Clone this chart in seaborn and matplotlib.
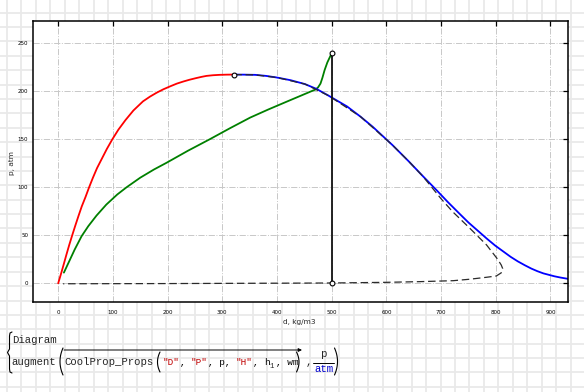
import numpy as np
import pandas as pd
import seaborn as sns
import matplotlib.pyplot as plt
from matplotlib.lines import Line2D

# saturated vapour branch (red)
vap_d = [0, 5.2, 10.2, 15.1, 20.2, 25.6, 31.2, 37, 43, 50, 56.5, 63.5, 71, 80, 89, 99,
         110, 123, 137.5, 155, 168, 180, 192, 205, 217, 229, 240, 252, 262, 271, 283, 295, 308, 322]
vap_p = [0, 10, 20, 30, 40, 50, 60, 70, 80, 90, 100, 110, 120, 130, 140, 150,
         160, 170, 180, 189.5, 194.5, 198.5, 202, 205.2, 208, 210.2, 212, 213.7, 215, 216, 216.7, 217.1, 217.3, 217.4]

# saturated liquid branch (blue)
liq_d = [322, 340, 360, 380, 400, 425, 451, 472, 494, 528, 553, 575, 611, 641, 667, 691, 712,
         732, 750, 768, 784, 799, 814, 827, 840, 853, 865, 876, 887, 897, 907, 918, 935]
liq_p = [217.4, 217.3, 217.1, 216, 214.3, 211.5, 207.5, 202.5, 195.5, 184.2, 173.4, 163, 144, 126.9, 111.4, 97.4, 84.8,
         73.4, 63.3, 54.3, 46.3, 39.2, 33, 27.6, 22.9, 18.8, 15.3, 12.6, 10.3, 8.8, 7.3, 6.0, 4.3]

# process line (green)
proc_d = [10.4, 21, 30, 42.7, 55, 70, 88, 108, 125, 150, 175, 198, 237, 277, 314, 351, 384, 417, 444, 471,
          475, 479.5, 483, 487, 492, 500]
proc_p = [11.1, 24, 35, 49, 59.5, 70.5, 82, 92.5, 100, 110, 118.5, 125.5, 138, 150, 161.5, 172.6, 181, 189, 195.5, 202,
          204, 208, 214, 222, 230, 239.6]

# dashed line
dash_d = [322, 360, 400, 451, 494, 553, 611, 641, 667, 700, 721, 752, 783, 803, 810, 812.5, 810, 801, 783,
          752, 722, 661, 600, 500, 400, 200, 9]
dash_p = [217.4, 217.1, 214.3, 207.5, 195.5, 173.4, 144, 126.9, 111.2, 88, 74.6, 57.6, 40, 25.3, 19, 15.4, 10.9, 7.6, 6.25,
          4.2, 2.7, 1.7, 1.0, 0.3, 0.1, -0.3, -0.5]

# vertical line and marked points
vert_d = [500, 500]
vert_p = [0, 239.6]
pts_d = [322, 500, 500]
pts_p = [217.4, 239.6, 0]

x_ticks = [0, 100, 200, 300, 400, 500, 600, 700, 800, 900]
y_ticks = [0, 50, 100, 150, 200, 250]

W, H = 584, 392


def fx(px):
    return px / W


def fy(py):
    return 1 - py / H


sns.set_style("white")
fig = plt.figure(figsize=(W / 100, H / 100), dpi=100)
fig.patch.set_facecolor("white")

# worksheet background grid
for gx in np.arange(7, W, 14.45):
    fig.add_artist(Line2D([fx(gx)] * 2, [0, 1], color="#e9e9e9", lw=1.3, zorder=-5))
for gy in np.arange(12.5, H, 14.4):
    fig.add_artist(Line2D([0, 1], [fy(gy)] * 2, color="#e9e9e9", lw=1.3, zorder=-5))

ax = fig.add_axes([fx(32.5), fy(302), (568 - 32.5) / W, (302 - 20.7) / H])
ax.set_facecolor("white")

sns.lineplot(x=vap_d, y=vap_p, sort=False, estimator=None, color="#ff0000", lw=1.3, ax=ax)
sns.lineplot(x=proc_d, y=proc_p, sort=False, estimator=None, color="#008000", lw=1.3, ax=ax)
sns.lineplot(x=liq_d, y=liq_p, sort=False, estimator=None, color="#0000ff", lw=1.3, ax=ax)
ax.plot(dash_d, dash_p, color="#2a2a2a", lw=0.9, dashes=(6, 3))
sns.lineplot(x=vert_d, y=vert_p, sort=False, estimator=None, color="#111111", lw=1.3, ax=ax)
sns.scatterplot(x=pts_d, y=pts_p, marker="o", s=12, facecolor="white",
                edgecolor="black", linewidth=0.8, zorder=5, ax=ax)

ax.set_xlim(-47, 932)
ax.set_ylim(-19.5, 273.5)
ax.set_xticks(x_ticks)
ax.set_yticks(y_ticks)
ax.grid(True, color="#c8c8c8", linestyle="-.", linewidth=0.7)
ax.set_axisbelow(True)
ax.tick_params(direction="in", length=3.5, width=0.9, top=True, right=True,
               labelsize=4, pad=3, colors="black")
ax.tick_params(axis="x", pad=5.5)
for sp in ax.spines.values():
    sp.set_visible(True)
    sp.set_color("black")
    sp.set_linewidth(1.1)

ax.set_xlabel("d, kg/m3", fontsize=5.3)
ax.set_ylabel("p, atm", fontsize=5.3)
ax.xaxis.set_label_coords(0.4977, -0.062)
ax.yaxis.set_label_coords(-0.033, 0.494)

# Mathcad expression below the plot
mono = "Liberation Mono"
fig.text(fx(11.7), fy(342.7), "Diagram", family=mono, fontsize=7.7, va="baseline")
fig.text(fx(11.7), fy(365), "augment", family=mono, fontsize=7.7, va="baseline")
fig.text(fx(64), fy(365), "CoolProp_Props", family=mono, fontsize=7.7, va="baseline")

red = "#c00000"
cw = 5.65
x0 = 162.5
parts = [(0, '"D"', red), (3, ",", "black"), (5, '"P"', red), (8, ", p,", "black"),
         (13, '"H"', red), (16, ",", "black"), (18, "h", "black"), (20, ", wm", "black")]
for idx, s, c in parts:
    fig.text(fx(x0 + idx * cw), fy(365), s, family=mono, fontsize=6.78, va="baseline", color=c)
fig.text(fx(x0 + 19 * cw), fy(367.5), "1", family=mono, fontsize=5.2, va="baseline")
fig.text(fx(306), fy(365), ",", family=mono, fontsize=7.7, va="baseline")

# fraction p / atm
fig.text(fx(323.5), fy(357), "p", family=mono, fontsize=7.7, va="baseline", ha="center")
fig.add_artist(Line2D([fx(313), fx(334)], [fy(363.3)] * 2, color="black", lw=0.7))
fig.text(fx(323.5), fy(372.3), "atm", family=mono, fontsize=7.7, va="baseline", ha="center",
         color="#0000cc")


def paren(xe, y0, y1, b, opening=True):
    t = np.linspace(-1, 1, 30)
    yy = (y0 + y1) / 2 + t * (y1 - y0) / 2
    xx = xe + b * t ** 2 if opening else xe - b * t ** 2
    fig.add_artist(Line2D(fx(xx), fy(yy), color="black", lw=0.8))


paren(60, 348, 375, 3)
paren(337.5, 348, 375, 3, opening=False)
paren(157.5, 352, 372, 2.5)
paren(299, 352, 372, 2.5, opening=False)

# left brace
bx = np.array([12, 10, 9.5, 9.5, 7.5, 9.5, 9.5, 10, 12])
by = np.array([332, 333, 336, 349, 352.5, 356, 369, 372, 373])
fig.add_artist(Line2D(fx(bx), fy(by), color="black", lw=0.8))

# vectorize arrow over the function call
ax.annotate("", xy=(302, H - 350), xytext=(64, H - 350), xycoords="figure pixels",
            textcoords="figure pixels",
            arrowprops=dict(arrowstyle="-|>", lw=0.7, mutation_scale=5, color="black",
                            shrinkA=0, shrinkB=0))

fig.savefig("out.png", dpi=100)
